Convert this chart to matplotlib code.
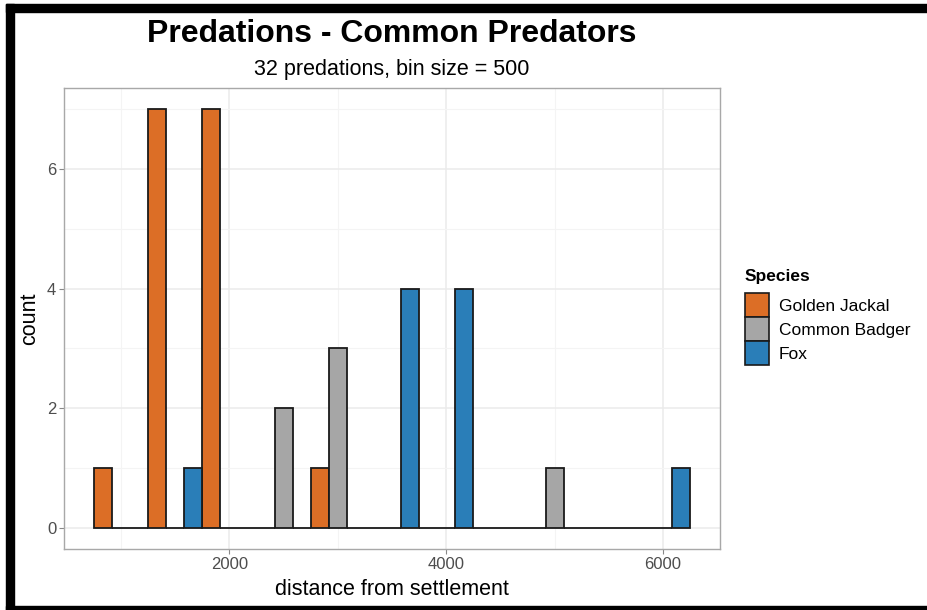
import numpy as np
import matplotlib
matplotlib.use("Agg")
import matplotlib.pyplot as plt
from matplotlib.patches import Patch, Rectangle

plt.rcParams['font.family'] = ['Liberation Sans', 'DejaVu Sans']

# histogram counts per 500-wide bin (bin centres)
bin_centers = [1000, 1500, 2000, 2500, 3000, 3500, 4000, 4500, 5000, 5500, 6000]
species = ['Golden Jackal', 'Common Badger', 'Fox']
counts = {
    'Golden Jackal': [1, 7, 7, 0, 1, 0, 0, 0, 0, 0, 0],
    'Common Badger': [0, 0, 0, 2, 3, 0, 0, 0, 1, 0, 0],
    'Fox':           [0, 1, 0, 0, 0, 4, 4, 0, 0, 0, 1],
}
colors = {'Golden Jackal': '#DC6E26', 'Common Badger': '#A6A6A6', 'Fox': '#2A7EB8'}
binwidth = 500

fig = plt.figure(figsize=(9.27, 6.1), dpi=100)
ax = fig.add_axes([64 / 927, 61 / 610, 656 / 927, 461 / 610])

w = binwidth / len(species)
centers = np.array(bin_centers, dtype=float)
for i, sp in enumerate(species):
    x = centers - binwidth / 2 + w * (i + 0.5)
    ax.bar(x, counts[sp], width=w, color=colors[sp], edgecolor='#1a1a1a',
           linewidth=1.3, zorder=3)

lo = centers[0] - binwidth / 2
hi = centers[-1] + binwidth / 2
pad = (hi - lo) * 0.05
ax.set_xlim(lo - pad, hi + pad)
ax.set_ylim(-0.35, 7.35)

ax.set_xticks([2000, 4000, 6000])
ax.set_xticks([1000, 3000, 5000], minor=True)
ax.set_yticks([0, 2, 4, 6])
ax.set_yticks([1, 3, 5, 7], minor=True)
ax.grid(True, which='major', color='#EBEBEB', linewidth=1.1, zorder=0)
ax.grid(True, which='minor', color='#F4F4F4', linewidth=0.8, zorder=0)
ax.set_axisbelow(True)
ax.tick_params(which='major', length=3.5, width=0.8, color='#888888',
               labelsize=12, labelcolor='#4D4D4D', pad=2)
ax.tick_params(which='minor', length=0)
for s in ax.spines.values():
    s.set_color('#A8A8A8')
    s.set_linewidth(1.0)

ax.set_xlabel('distance from settlement', fontsize=15.5, color='black', labelpad=5)
ax.set_ylabel('count', fontsize=15.5, color='black', labelpad=5)

fig.text(392 / 927, 1 - 34 / 610, 'Predations - Common Predators', ha='center',
         va='center', fontsize=23, fontweight='bold')
fig.text(392 / 927, 1 - 70 / 610, '32 predations, bin size = 500', ha='center',
         va='center', fontsize=15.5)

# legend: title as plain text, keys stacked underneath
fig.text(745 / 927, 1 - 277 / 610, 'Species', ha='left', va='center',
         fontsize=12.5, fontweight='bold')
handles = [Patch(facecolor=colors[sp], edgecolor='#1a1a1a', linewidth=1.2) for sp in species]
leg = fig.legend(handles, species, loc='upper left',
                 bbox_to_anchor=(745 / 927, 1 - 293 / 610), frameon=False,
                 fontsize=12.5, handlelength=1.4, handleheight=1.75,
                 labelspacing=0.0, handletextpad=0.55,
                 borderpad=0, borderaxespad=0)

# black frame around the image
for (x0, y0, x1, y1) in [(6, 4, 14, 610), (6, 4, 927, 12), (6, 606, 927, 610)]:
    fig.patches.append(Rectangle((x0 / 927, 1 - y1 / 610), (x1 - x0) / 927,
                                 (y1 - y0) / 610, transform=fig.transFigure,
                                 color='black', zorder=10))

fig.savefig('out.png', dpi=100)
